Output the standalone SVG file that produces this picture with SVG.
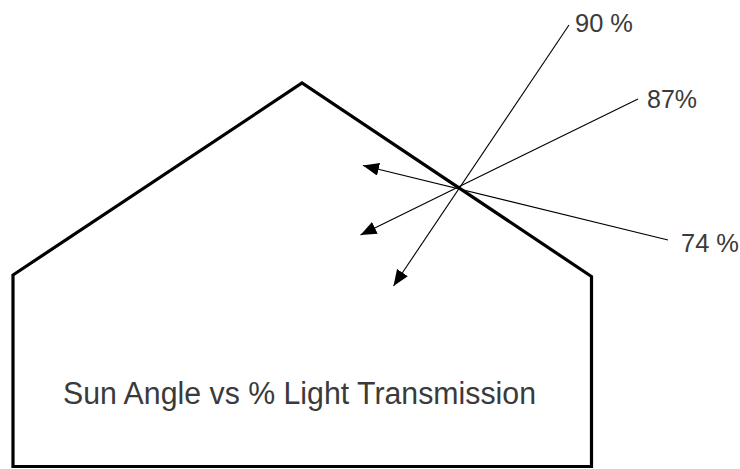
<svg xmlns="http://www.w3.org/2000/svg" width="740" height="469" viewBox="0 0 740 469">
<style>
.wall{fill:none;stroke:#000;stroke-width:3.2;stroke-linejoin:miter}
.ray{fill:none;stroke:#000;stroke-width:1.1}
.lbl{font-family:"Liberation Sans","DejaVu Sans",sans-serif;fill:#3a3a3a}
</style>
<defs>
<marker id="arr" markerUnits="userSpaceOnUse" markerWidth="17" markerHeight="14" refX="16" refY="6.5" orient="auto">
<path d="M0,0 L16,6.5 L0,13 Z" fill="#000"/>
</marker>
</defs>
<rect width="740" height="469" fill="#fff"/>
<g id="house">
<path class="wall" d="M13,466.5 L13,275 L302,83 L591.5,276.5 L591.5,466.5 Z"/>
<text class="lbl" x="63" y="404" font-size="31" textLength="473" lengthAdjust="spacingAndGlyphs">Sun Angle vs % Light Transmission</text>
</g>
<g id="connectors">
<line class="ray" x1="569" y1="25" x2="393.5" y2="286" marker-end="url(#arr)"/>
<line class="ray" x1="638" y1="99" x2="360.5" y2="235" marker-end="url(#arr)"/>
<line class="ray" x1="668" y1="240" x2="363" y2="165.5" marker-end="url(#arr)"/>
</g>
<g id="label-90">
<text class="lbl" x="575" y="32" font-size="26" textLength="58" lengthAdjust="spacingAndGlyphs">90 %</text>
</g>
<g id="label-87">
<text class="lbl" x="647" y="108" font-size="26" textLength="50" lengthAdjust="spacingAndGlyphs">87%</text>
</g>
<g id="label-74">
<text class="lbl" x="681" y="251.5" font-size="26" textLength="58" lengthAdjust="spacingAndGlyphs">74 %</text>
</g>
</svg>
